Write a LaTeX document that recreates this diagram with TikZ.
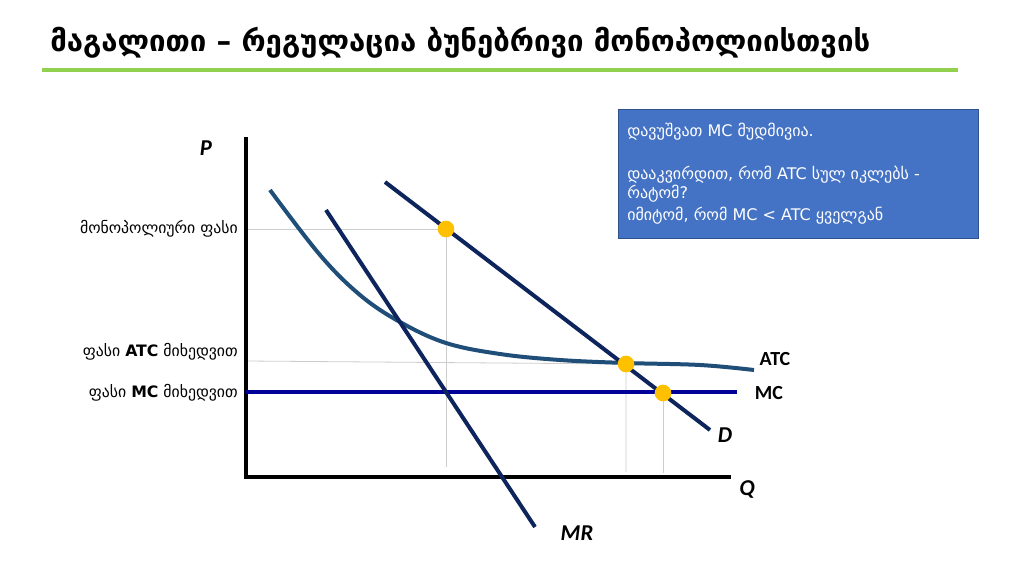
\documentclass[tikz,border=0pt]{standalone}
\usepackage{fontspec}
\setmainfont{DejaVu Sans}
\newfontfamily\calfont{Carlito}
\definecolor{navy}{RGB}{14,36,92}
\definecolor{atcblue}{RGB}{31,78,121}
\definecolor{mcblue}{RGB}{0,0,153}
\definecolor{gold}{RGB}{255,192,0}
\definecolor{boxblue}{RGB}{68,114,196}
\definecolor{boxborder}{RGB}{47,82,143}
\definecolor{titlegreen}{RGB}{146,208,80}
\definecolor{guidegray}{RGB}{205,205,205}
\begin{document}
\begin{tikzpicture}[x=0.75pt,y=-0.75pt,
  axisline/.style={line width=2.3pt,black},
  guide/.style={line width=0.6pt,guidegray},
  curveline/.style={line width=3pt,navy},
  dotnode/.style={circle,fill=gold,inner sep=0pt,minimum size=12.5pt},
  axlabel/.style={font=\calfont\bfseries\itshape\fontsize{17}{20}\selectfont},
  crvlabel/.style={font=\calfont\bfseries\fontsize{15}{18}\selectfont},
  leftlabel/.style={anchor=east,inner sep=0pt,font=\fontsize{11.8}{14}\selectfont},
  boxstyle/.style={draw=boxborder,line width=0.8pt,fill=boxblue,anchor=north west,inner sep=0pt},
  boxtext/.style={anchor=base west,inner sep=0pt,text=white,font=\fontsize{12}{14}\selectfont}]
\useasboundingbox (0,0) rectangle (1024,574);
\fill[white] (0,0) rectangle (1024,574);

% title
\node[anchor=west,inner sep=0pt] (title) at (50,43) {\fontsize{22}{26}\selectfont\bfseries მაგალითი – რეგულაცია ბუნებრივი მონოპოლიისთვის};
\coordinate (gl) at (42,70);
\coordinate (gr) at (958,70);
\draw[titlegreen,line width=3pt] (gl) -- (gr);

% coordinates
\coordinate (ytop) at (246,137);
\coordinate (O) at (246,477);
\coordinate (xend) at (731,477);
\coordinate (m) at (446,229);
\coordinate (a) at (626,364);
\coordinate (c) at (663,393);
\coordinate (ym) at (246,229);
\coordinate (ya) at (246,361);
\coordinate (mb) at (446,467);
\coordinate (ab) at (626,472);
\coordinate (cb) at (663,473);
\coordinate (d1) at (385,182);
\coordinate (d2) at (710,430);
\coordinate (r1) at (326,210);
\coordinate (r2) at (535,527);
\coordinate (mc1) at (246,392);
\coordinate (mc2) at (737,392);

% guides
\draw[guide] (ym) -- (m) -- (mb);
\draw[guide] (ya) -- (a) -- (ab);
\draw[guide] (c) -- (cb);

% axes
\draw[axisline] (ytop) -- (O) -- (xend);

% curves
\draw[line width=3pt,mcblue] (mc1) -- (mc2);
\draw[line width=3pt,atcblue] plot[smooth,tension=0.6] coordinates
  {(270,190) (320,255) (360,295) (400,322) (446,343) (500,354) (560,360) (626,363) (700,365) (754,370)};
\draw[curveline] (r1) -- (r2);
\draw[curveline] (d1) -- (d2);

% dots
\node[dotnode] (dm) at (m) {};
\node[dotnode] (da) at (a) {};
\node[dotnode] (dc) at (c) {};

% labels
\node[axlabel] (P) at (206,148) {P};
\node[axlabel] (Q) at (747,489) {Q};
\node[axlabel] (D) at (725,435) {D};
\node[axlabel] (MR) at (577,533) {MR};
\node[crvlabel] (ATC) at (775,359) {ATC};
\node[crvlabel] (MC) at (769,393) {MC};

\node[leftlabel] (l1) at (238,229) {მონოპოლიური ფასი};
\node[leftlabel] (l2) at (238,352) {ფასი \textbf{ATC} მიხედვით};
\node[leftlabel] (l3) at (238,393) {ფასი \textbf{MC} მიხედვით};

% box
\node[boxstyle,minimum width=270pt,minimum height=96.75pt] (box) at (618,109) {};
\node[boxtext] (t1) at (627,137) {დავუშვათ MC მუდმივია.};
\node[boxtext] (t2) at (627,180) {დააკვირდით, რომ ATC სულ იკლებს -};
\node[boxtext] (t3) at (627,199) {რატომ?};
\node[boxtext] (t4) at (627,220) {იმიტომ, რომ MC < ATC ყველგან};
\end{tikzpicture}
\end{document}
